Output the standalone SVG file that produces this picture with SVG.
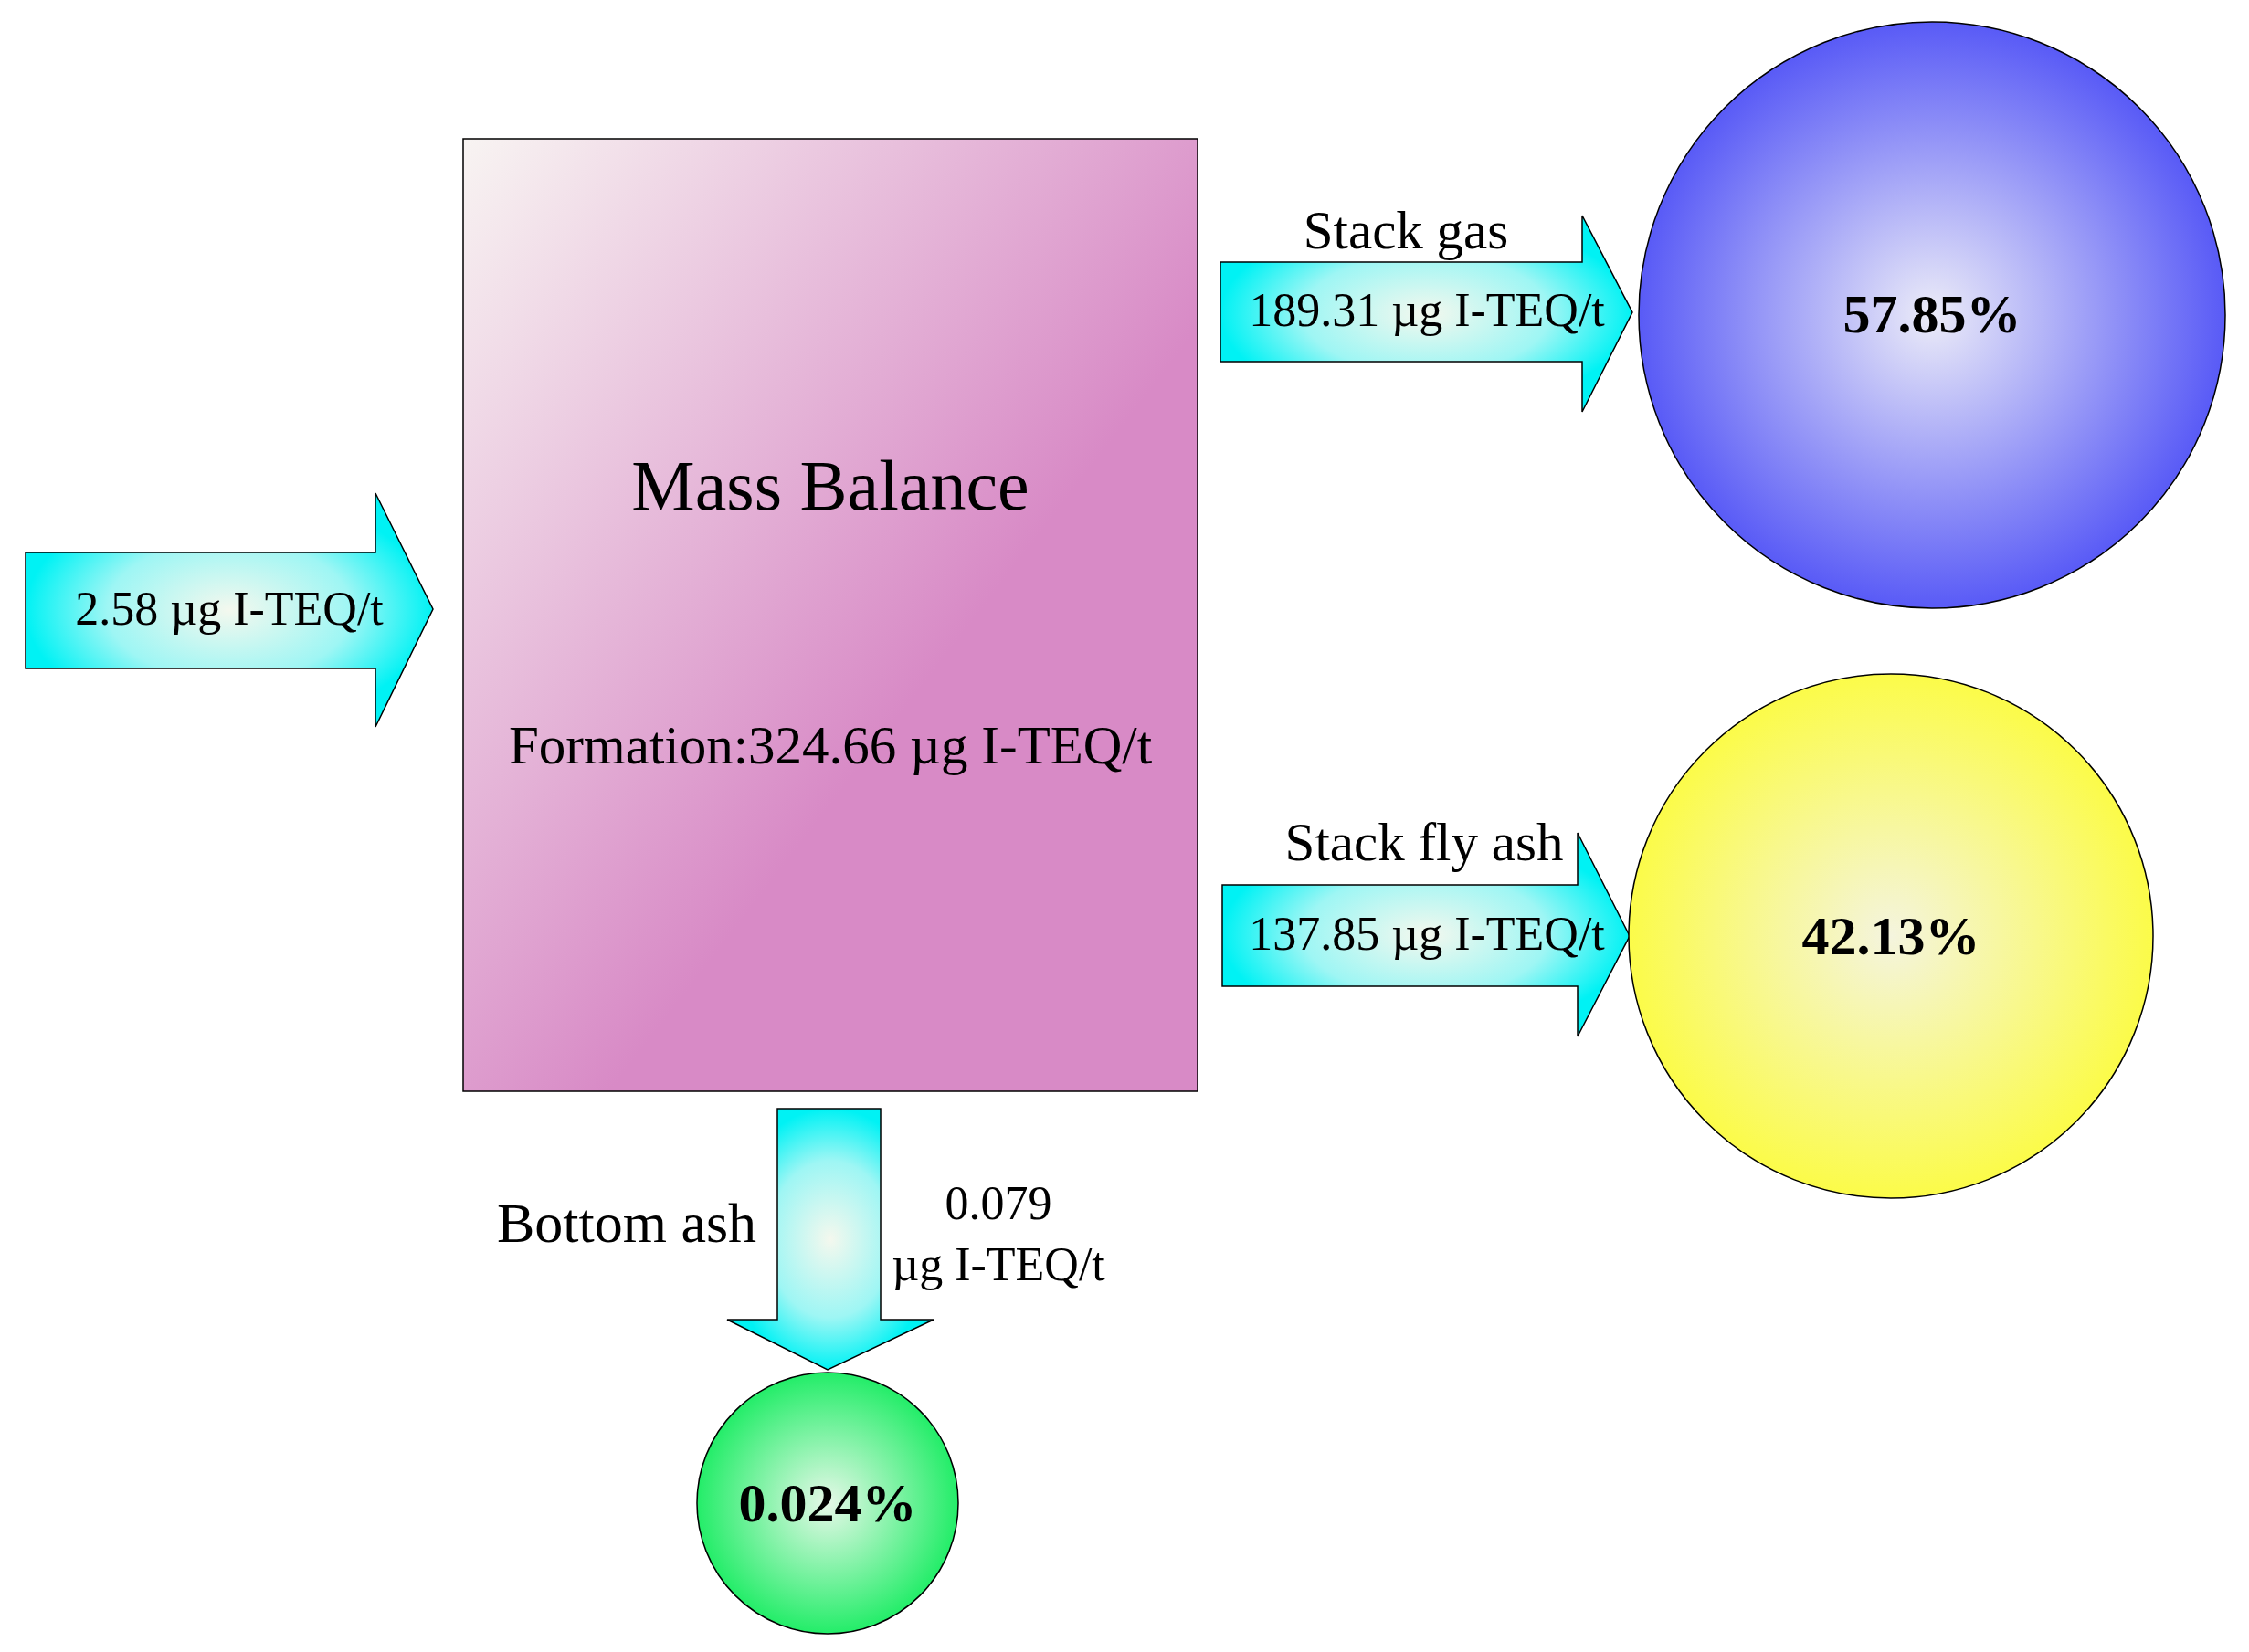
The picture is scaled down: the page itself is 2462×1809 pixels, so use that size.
<svg xmlns="http://www.w3.org/2000/svg" width="2462" height="1809" viewBox="0 0 2462 1809">
<defs>
<linearGradient id="box" x1="0" y1="0" x2="1" y2="1" gradientUnits="objectBoundingBox">
<stop offset="0" stop-color="#F8F4F2"/><stop offset="0.6" stop-color="#D88AC6"/><stop offset="1" stop-color="#D88AC6"/>
</linearGradient>
<radialGradient id="arr" cx="0.5" cy="0.5" r="0.5"><stop offset="0" stop-color="#F4F8EE"/><stop offset="0.6" stop-color="#9EF6F4"/><stop offset="1" stop-color="#00F2F4"/></radialGradient>
<radialGradient id="blue" cx="0.5" cy="0.5" r="0.55"><stop offset="0" stop-color="#ECECF8"/><stop offset="1" stop-color="#4A4CF6"/></radialGradient>
<radialGradient id="yel" cx="0.5" cy="0.5" r="0.55"><stop offset="0" stop-color="#F4F4DE"/><stop offset="1" stop-color="#FCFC3A"/></radialGradient>
<radialGradient id="grn" cx="0.5" cy="0.5" r="0.55"><stop offset="0" stop-color="#E6F8E8"/><stop offset="1" stop-color="#10EC5C"/></radialGradient>
<style>
.s{stroke:#000;stroke-width:1.5}
.t{font-family:"Liberation Serif",serif;fill:#000;text-anchor:middle}
.b{font-weight:bold}
</style>
</defs>
<g id="connectors">
<path class="s" fill="url(#arr)" d="M28,605H411V540L474,667L411,796V732H28Z"/>
<path class="s" fill="url(#arr)" d="M1336,287H1732V236L1787,342L1732,451V396H1336Z"/>
<path class="s" fill="url(#arr)" d="M1338,969H1727V912L1784,1025L1727,1135V1080H1338Z"/>
<path class="s" fill="url(#arr)" d="M851,1214H964V1445H1022L906,1500L796,1445H851Z"/>
<text class="t" x="251" y="684" font-size="52">2.58 µg I-TEQ/t</text>
<text class="t" x="1539" y="272" font-size="59">Stack gas</text>
<text class="t" x="1562" y="357" font-size="52">189.31 µg I-TEQ/t</text>
<text class="t" x="1559" y="942" font-size="59">Stack fly ash</text>
<text class="t" x="1562" y="1040" font-size="52">137.85 µg I-TEQ/t</text>
<text class="t" x="686" y="1360" font-size="62">Bottom ash</text>
<text class="t" x="1093" y="1335" font-size="52">0.079</text>
<text class="t" x="1093" y="1402" font-size="52">µg I-TEQ/t</text>
</g>
<g id="mass">
<rect class="s" x="507" y="152" width="804" height="1043" fill="url(#box)"/>
<text class="t" x="909" y="558" font-size="78">Mass Balance</text>
<text class="t" x="909" y="836" font-size="59">Formation:324.66 µg I-TEQ/t</text>
</g>
<g id="gas"><circle class="s" cx="2115" cy="345" r="321" fill="url(#blue)"/><text class="t b" x="2115" y="364" font-size="60">57.85%</text></g>
<g id="fly"><circle class="s" cx="2070" cy="1025" r="287" fill="url(#yel)"/><text class="t b" x="2070" y="1045" font-size="60">42.13%</text></g>
<g id="bottom"><circle class="s" cx="906" cy="1646" r="143" fill="url(#grn)"/><text class="t b" x="906" y="1666" font-size="60">0.024%</text></g>
</svg>
